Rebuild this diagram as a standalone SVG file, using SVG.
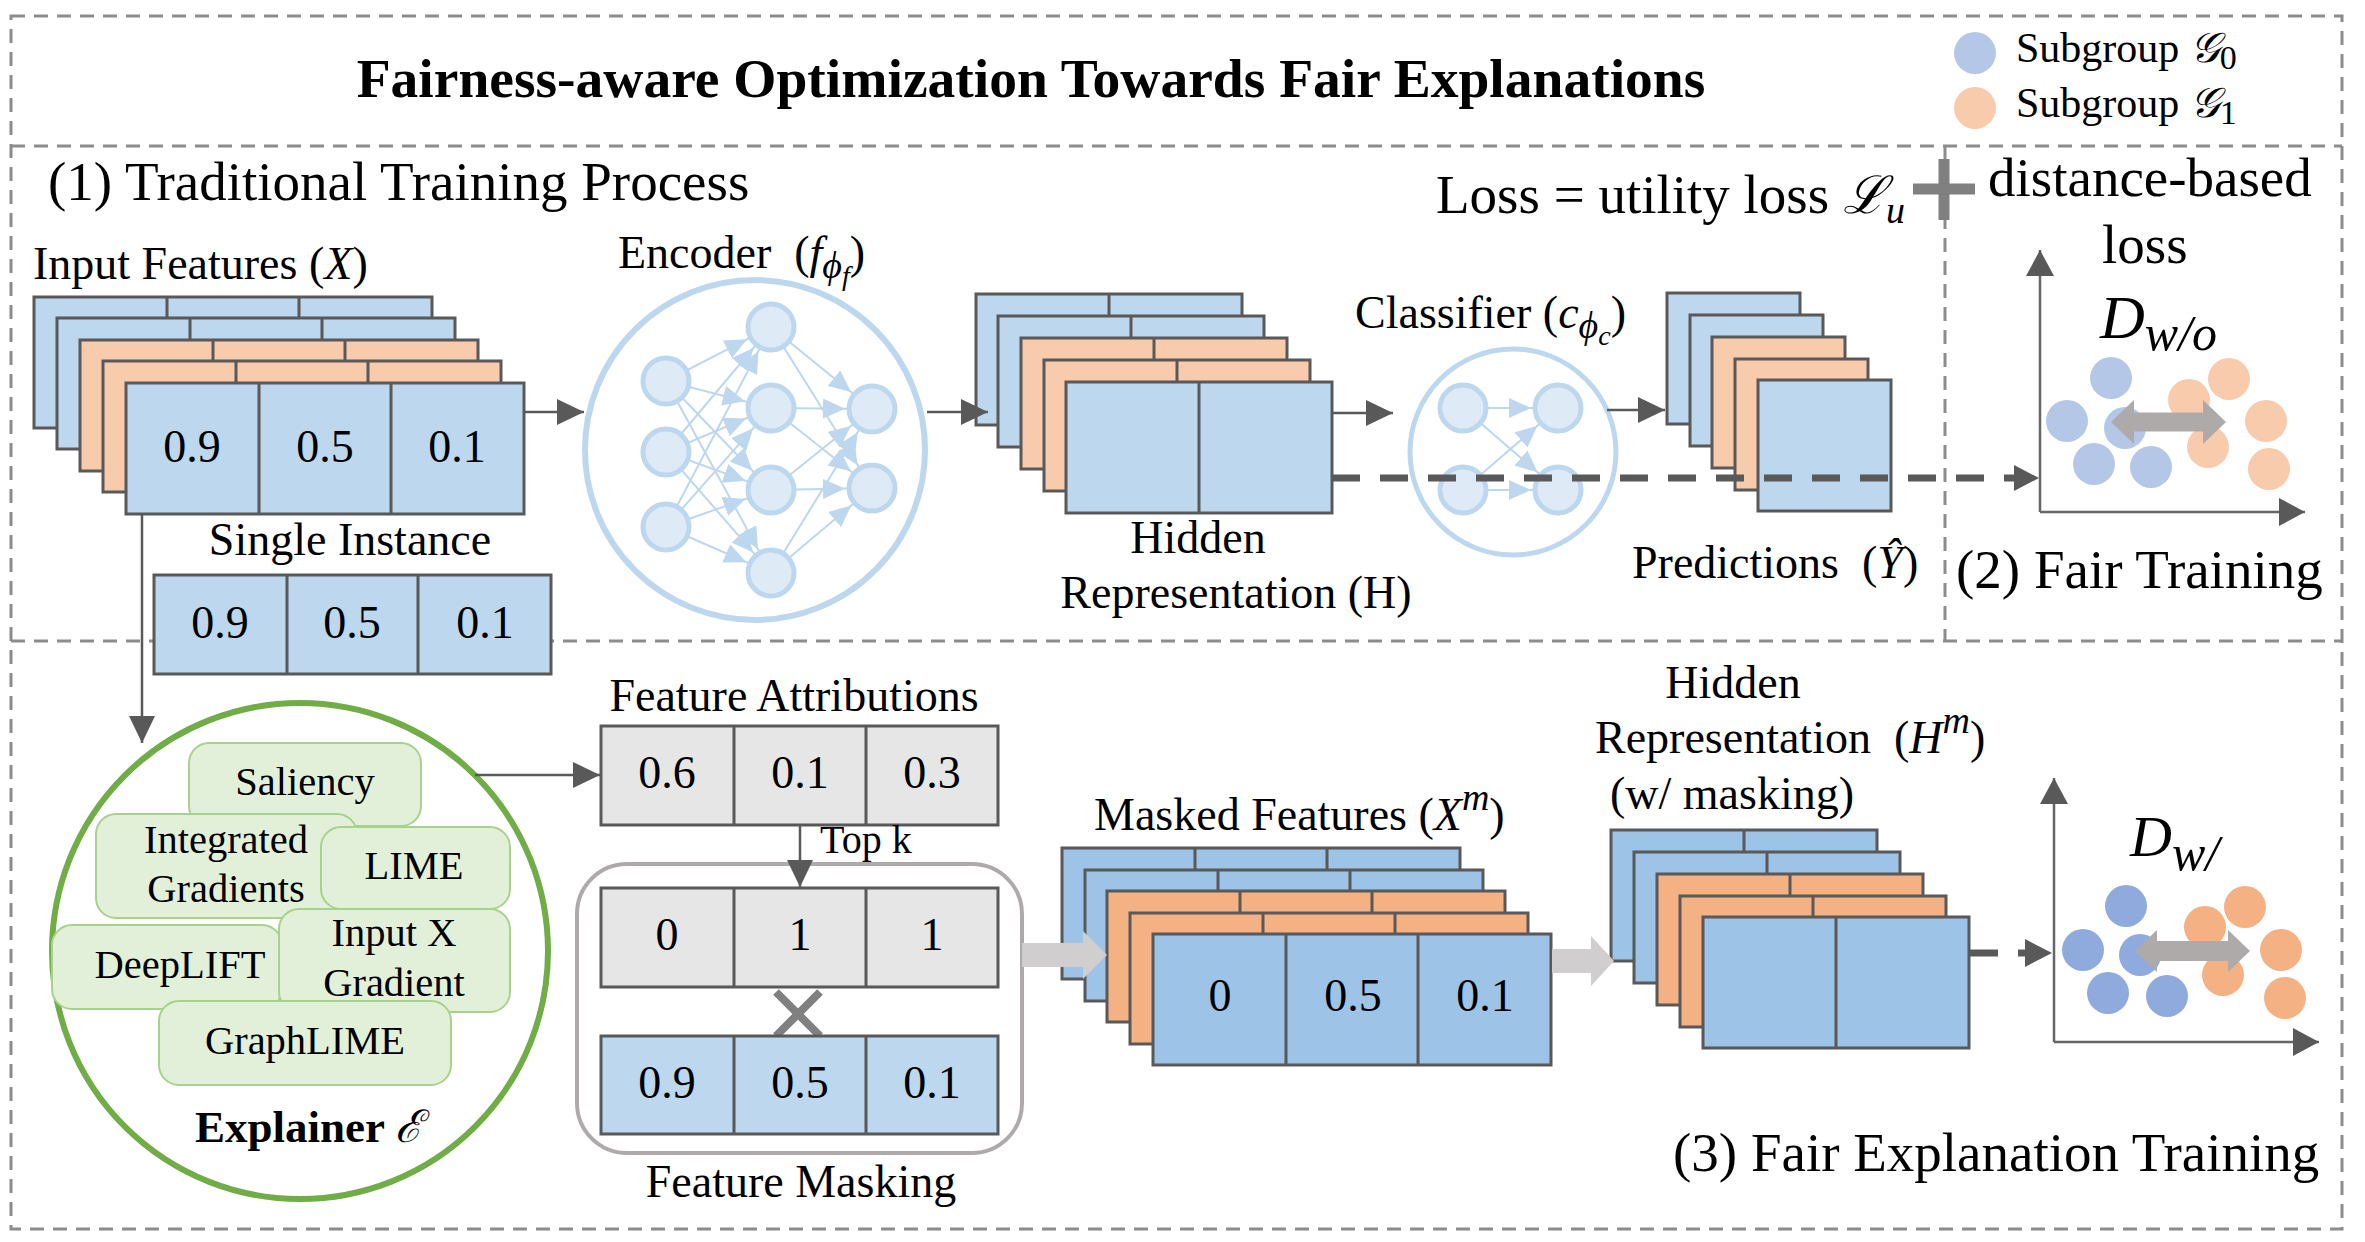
<svg xmlns="http://www.w3.org/2000/svg" width="2365" height="1242" viewBox="0 0 2365 1242">
<style>
text{font-family:"Liberation Serif","DejaVu Serif",serif;fill:#000}
.h55{font-size:55px}
.l46{font-size:46px}
.m46{font-size:46px;text-anchor:middle}
.g40{font-size:40.5px;text-anchor:middle}
.it{font-style:italic}
.frame{fill:none;stroke:#8c8c8c;stroke-width:3;stroke-dasharray:14 9}
.conn{stroke:#595959;stroke-width:2.5;fill:none}
.axis{stroke:#666;stroke-width:2.5;fill:none}
.nn{stroke:#bdd7ee;stroke-width:2;fill:none}
.node{fill:#deebf7;stroke:#bdd7ee;stroke-width:5}
.gbox{fill:#e2f0d9;stroke:#a9d18e;stroke-width:2}
.bt{fill:#bdd7ee}.ot{fill:#f8cbad}.bb{fill:#9dc3e6}.ob{fill:#f4b183}
.gray{fill:#e7e6e6}
.thick{stroke:#595959;stroke-width:7;stroke-dasharray:28 20;fill:none}
</style>
<defs>
<marker id="ad" markerUnits="userSpaceOnUse" markerWidth="27" markerHeight="26" refX="27" refY="13" orient="auto"><path d="M0,0L27,13L0,26z" fill="#595959"/></marker>
<marker id="ax" markerUnits="userSpaceOnUse" markerWidth="26" markerHeight="28" refX="26" refY="14" orient="auto"><path d="M0,0L26,14L0,28z" fill="#595959"/></marker>
<marker id="ab" markerUnits="userSpaceOnUse" markerWidth="50" markerHeight="20" refX="49" refY="10" orient="auto"><path d="M0,0L22,10L0,20z" fill="#bdd7ee"/></marker>
<g id="c3"><rect width="398" height="131" stroke="#595959" stroke-width="3"/><path d="M133,0V131M265,0V131" stroke="#595959" stroke-width="3"/></g>
<g id="c2"><rect width="266" height="131" stroke="#595959" stroke-width="3"/><path d="M133,0V131" stroke="#595959" stroke-width="3"/></g>
<g id="c1"><rect width="133" height="131" stroke="#595959" stroke-width="3"/></g>
</defs>
<rect width="2365" height="1242" fill="#fff"/>

<g id="frames">
<rect class="frame" x="11" y="16" width="2331" height="1213"/>
<path class="frame" d="M11,146H2342M11,641H2342M1945,146V641"/>
</g>

<g id="title">
<text x="1031" y="97" font-size="55.5" font-weight="bold" text-anchor="middle">Fairness-aware Optimization Towards Fair Explanations</text>
</g>

<g id="legend">
<circle cx="1975" cy="53" r="21" fill="#b4c7e7"/>
<circle cx="1975" cy="108" r="21" fill="#f8cbad"/>
<text x="2016" y="62" font-size="42">Subgroup <tspan class="it">𝒢</tspan><tspan font-size="34" dy="7">0</tspan></text>
<text x="2016" y="117" font-size="42">Subgroup <tspan class="it">𝒢</tspan><tspan font-size="34" dy="7">1</tspan></text>
</g>

<g id="section1-label"><text class="h55" x="48" y="200">(1) Traditional Training Process</text></g>

<g id="loss">
<text class="h55" x="1436" y="213">Loss = utility loss <tspan class="it" font-size="52">ℒ</tspan><tspan class="it" font-size="38" dy="10">u</tspan></text>
<path d="M1913,189H1975M1944,159V220" stroke="#808080" stroke-width="11"/>
<text class="h55" x="1988" y="196">distance-based</text>
<text class="h55" x="2102" y="263">loss</text>
</g>

<g id="input-features">
<text class="l46" x="33" y="279">Input Features (<tspan class="it">X</tspan>)</text>
<use href="#c3" x="34" y="297" class="bt"/>
<use href="#c3" x="57" y="318" class="bt"/>
<use href="#c3" x="80" y="340" class="ot"/>
<use href="#c3" x="103" y="361" class="ot"/>
<use href="#c3" x="126" y="383" class="bt"/>
<text class="m46" x="192" y="462">0.9</text><text class="m46" x="325" y="462">0.5</text><text class="m46" x="457" y="462">0.1</text>
</g>

<g id="single-instance">
<text class="m46" x="350" y="555" font-size="48">Single Instance</text>
<rect x="154" y="575" width="397" height="99" class="bt" stroke="#595959" stroke-width="3"/>
<path d="M287,575V674M418,575V674" stroke="#595959" stroke-width="3"/>
<text class="m46" x="220" y="638">0.9</text><text class="m46" x="352" y="638">0.5</text><text class="m46" x="485" y="638">0.1</text>
</g>

<g id="encoder">
<text class="l46" x="618" y="268">Encoder&#160;&#160;(<tspan class="it">f</tspan><tspan class="it" font-size="38" dy="10">ϕ</tspan><tspan class="it" font-size="28" dy="7">f</tspan><tspan dy="-17">)</tspan></text>
<circle cx="755" cy="450" r="170" fill="#fff" stroke="#bdd7ee" stroke-width="6"/>
<g marker-end="url(#ab)" class="nn">
<path d="M666,381L771,327"/><path d="M666,381L771,408"/><path d="M666,381L771,490"/><path d="M666,381L771,573"/>
<path d="M666,452L771,327"/><path d="M666,452L771,408"/><path d="M666,452L771,490"/><path d="M666,452L771,573"/>
<path d="M666,527L771,327"/><path d="M666,527L771,408"/><path d="M666,527L771,490"/><path d="M666,527L771,573"/>
<path d="M771,327L872,409"/><path d="M771,327L872,488"/><path d="M771,408L872,409"/><path d="M771,408L872,488"/>
<path d="M771,490L872,409"/><path d="M771,490L872,488"/><path d="M771,573L872,409"/><path d="M771,573L872,488"/>
</g>
<circle class="node" cx="666" cy="381" r="23"/><circle class="node" cx="666" cy="452" r="23"/><circle class="node" cx="666" cy="527" r="23"/>
<circle class="node" cx="771" cy="327" r="23"/><circle class="node" cx="771" cy="408" r="23"/><circle class="node" cx="771" cy="490" r="23"/><circle class="node" cx="771" cy="573" r="23"/>
<circle class="node" cx="872" cy="409" r="23"/><circle class="node" cx="872" cy="488" r="23"/>
</g>

<g id="hidden-representation">
<use href="#c2" x="976" y="294" class="bt"/>
<use href="#c2" x="998" y="316" class="bt"/>
<use href="#c2" x="1021" y="338" class="ot"/>
<use href="#c2" x="1044" y="360" class="ot"/>
<use href="#c2" x="1066" y="382" class="bt"/>
<text class="m46" x="1198" y="553">Hidden</text>
<text class="m46" x="1236" y="608">Representation (H)</text>
</g>

<g id="classifier">
<text class="l46" x="1355" y="328">Classifier (<tspan class="it">c</tspan><tspan class="it" font-size="38" dy="10">ϕ</tspan><tspan class="it" font-size="28" dy="7">c</tspan><tspan dy="-17">)</tspan></text>
<circle cx="1513" cy="452" r="103" fill="#fff" stroke="#bdd7ee" stroke-width="5"/>
<g marker-end="url(#ab)" class="nn">
<path d="M1463,408L1558,408"/><path d="M1463,408L1558,490"/><path d="M1463,490L1558,408"/><path d="M1463,490L1558,490"/>
</g>
<circle class="node" cx="1463" cy="408" r="23"/><circle class="node" cx="1558" cy="408" r="23"/>
<circle class="node" cx="1463" cy="490" r="23"/><circle class="node" cx="1558" cy="490" r="23"/>
</g>

<g id="predictions">
<use href="#c1" x="1667" y="293" class="bt"/>
<use href="#c1" x="1690" y="315" class="bt"/>
<use href="#c1" x="1712" y="337" class="ot"/>
<use href="#c1" x="1735" y="359" class="ot"/>
<use href="#c1" x="1758" y="380" class="bt"/>
<text class="l46" x="1632" y="578">Predictions&#160;&#160;(<tspan class="it">Ŷ</tspan>)</text>
</g>

<g id="fair-training">
<text class="h55" x="1956" y="588">(2) Fair Training</text>
<path class="axis" d="M2040,512V250" marker-end="url(#ax)"/>
<path class="axis" d="M2040,512H2305" marker-end="url(#ax)"/>
<text x="2100" y="338" font-size="62" class="it">D<tspan font-size="50" dy="12">w/o</tspan></text>
<g fill="#b4c7e7">
<circle cx="2111" cy="378" r="21"/><circle cx="2067" cy="421" r="21"/><circle cx="2125" cy="428" r="21"/><circle cx="2094" cy="464" r="21"/><circle cx="2151" cy="467" r="21"/>
</g>
<g fill="#f8cbad">
<circle cx="2229" cy="379" r="21"/><circle cx="2189" cy="400" r="21"/><circle cx="2266" cy="421" r="21"/><circle cx="2208" cy="447" r="21"/><circle cx="2269" cy="469" r="21"/>
</g>
<polygon fill="#aeaaaa" points="2111,422 2134,400 2134,412.5 2203,412.5 2203,400 2226,422 2203,444 2203,431.5 2134,431.5 2134,444"/>
</g>

<g id="explainer">
<circle cx="300" cy="951" r="248" fill="#fff" stroke="#70ad47" stroke-width="6"/>
<rect class="gbox" x="189" y="743" width="232" height="83" rx="20"/>
<text class="g40" x="305" y="795">Saliency</text>
<rect class="gbox" x="96" y="814" width="261" height="104" rx="20"/>
<text class="g40" x="226" y="853">Integrated</text><text class="g40" x="226" y="902">Gradients</text>
<rect class="gbox" x="321" y="827" width="189" height="82" rx="20"/>
<text class="g40" x="414" y="879">LIME</text>
<rect class="gbox" x="52" y="925" width="230" height="84" rx="20"/>
<text class="g40" x="180" y="978">DeepLIFT</text>
<rect class="gbox" x="279" y="909" width="231" height="103" rx="20"/>
<text class="g40" x="394" y="946">Input X</text><text class="g40" x="394" y="996">Gradient</text>
<rect class="gbox" x="159" y="1001" width="292" height="84" rx="20"/>
<text class="g40" x="305" y="1054">GraphLIME</text>
<text x="195" y="1142" font-size="45" font-weight="bold">Explainer <tspan class="it" font-weight="normal">ℰ</tspan></text>
</g>

<g id="feature-attributions">
<text class="m46" x="794" y="711">Feature Attributions</text>
<rect x="601" y="726" width="397" height="99" class="gray" stroke="#595959" stroke-width="3"/>
<path d="M734,726V825M866,726V825" stroke="#595959" stroke-width="3"/>
<text class="m46" x="667" y="788">0.6</text><text class="m46" x="800" y="788">0.1</text><text class="m46" x="932" y="788">0.3</text>
<text x="820" y="853" font-size="40">Top k</text>
</g>

<g id="feature-masking">
<rect x="577" y="864" width="445" height="289" rx="50" fill="none" stroke="#aeaaaa" stroke-width="4"/>
<rect x="601" y="888" width="397" height="99" class="gray" stroke="#595959" stroke-width="3"/>
<path d="M734,888V987M866,888V987" stroke="#595959" stroke-width="3"/>
<text class="m46" x="667" y="950">0</text><text class="m46" x="800" y="950">1</text><text class="m46" x="932" y="950">1</text>
<path d="M776,992L820,1036M820,992L776,1036" stroke="#808080" stroke-width="8"/>
<rect x="601" y="1036" width="397" height="98" class="bt" stroke="#595959" stroke-width="3"/>
<path d="M734,1036V1134M866,1036V1134" stroke="#595959" stroke-width="3"/>
<text class="m46" x="667" y="1098">0.9</text><text class="m46" x="800" y="1098">0.5</text><text class="m46" x="932" y="1098">0.1</text>
<text class="m46" x="801" y="1197">Feature Masking</text>
</g>

<g id="masked-features">
<text class="l46" x="1094" y="830">Masked Features (<tspan class="it">X</tspan><tspan class="it" font-size="38" dy="-20">m</tspan><tspan dy="20">)</tspan></text>
<use href="#c3" x="1062" y="848" class="bb"/>
<use href="#c3" x="1085" y="870" class="bb"/>
<use href="#c3" x="1107" y="891" class="ob"/>
<use href="#c3" x="1130" y="913" class="ob"/>
<use href="#c3" x="1153" y="934" class="bb"/>
<text class="m46" x="1220" y="1011">0</text><text class="m46" x="1353" y="1011">0.5</text><text class="m46" x="1485" y="1011">0.1</text>
</g>

<g id="hidden-masked">
<text class="m46" x="1733" y="698">Hidden</text>
<text class="l46" x="1595" y="753">Representation&#160;&#160;(<tspan class="it">H</tspan><tspan class="it" font-size="38" dy="-20">m</tspan><tspan dy="20">)</tspan></text>
<text class="m46" x="1732" y="809">(w/ masking)</text>
<use href="#c2" x="1611" y="830" class="bb"/>
<use href="#c2" x="1634" y="852" class="bb"/>
<use href="#c2" x="1657" y="874" class="ob"/>
<use href="#c2" x="1680" y="896" class="ob"/>
<use href="#c2" x="1703" y="917" class="bb"/>
</g>

<g id="fair-explanation">
<path class="axis" d="M2054,1042V778" marker-end="url(#ax)"/>
<path class="axis" d="M2054,1042H2319" marker-end="url(#ax)"/>
<text x="2130" y="856" font-size="58" class="it">D<tspan font-size="50" dy="14">w/</tspan></text>
<g fill="#8faadc">
<circle cx="2126" cy="906" r="21"/><circle cx="2083" cy="950" r="21"/><circle cx="2140" cy="955" r="21"/><circle cx="2108" cy="993" r="21"/><circle cx="2167" cy="996" r="21"/>
</g>
<g fill="#f4b183">
<circle cx="2245" cy="907" r="21"/><circle cx="2205" cy="927" r="21"/><circle cx="2281" cy="950" r="21"/><circle cx="2223" cy="975" r="21"/><circle cx="2285" cy="998" r="21"/>
</g>
<polygon fill="#aeaaaa" points="2135,951 2157,930 2157,941 2228,941 2228,930 2250,951 2228,972 2228,961 2157,961 2157,972"/>
<text class="h55" x="1673" y="1171">(3) Fair Explanation Training</text>
</g>

<g id="connectors">
<path class="conn" d="M523,412H584" marker-end="url(#ad)"/>
<path class="conn" d="M927,412H988" marker-end="url(#ad)"/>
<path class="conn" d="M1332,413H1393" marker-end="url(#ad)"/>
<path class="conn" d="M1607,410H1665" marker-end="url(#ad)"/>
<path class="conn" d="M142,514V743" marker-end="url(#ad)"/>
<path class="conn" d="M475,775H600" marker-end="url(#ad)"/>
<path class="conn" d="M800,825V887" marker-end="url(#ad)"/>
<path class="thick" d="M1332,478H2014"/>
<polygon fill="#595959" points="2014,465 2039,478 2014,491"/>
<path class="thick" d="M1970,953H2025" stroke-dasharray="27 18"/>
<polygon fill="#595959" points="2025,939 2052,953 2025,967"/>
<polygon fill="#d0cece" points="1022,943 1083,943 1083,931 1107,955 1083,979 1083,967 1022,967"/>
<polygon fill="#d0cece" points="1552,949 1591,949 1591,936 1614,961 1591,986 1591,973 1552,973"/>
</g>
</svg>
